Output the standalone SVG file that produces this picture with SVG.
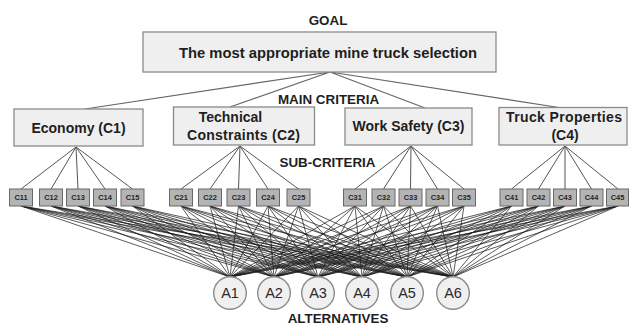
<svg xmlns="http://www.w3.org/2000/svg" width="629" height="325" viewBox="0 0 629 325">
  <style>
    .box { fill: #efefef; stroke: #8a8a8a; stroke-width: 1.3; }
    .sub { fill: #b4b4b4; stroke: #686868; stroke-width: 1; }
    .alt { fill: #f0f0f0; stroke: #8c8c8c; stroke-width: 1.4; }
    .lbl { font-family: "Liberation Sans", Arial, sans-serif; font-weight: bold; fill: #1e1e1e; text-anchor: middle; }
    .big { font-size: 14px; }
    .head { font-size: 13.4px; }
    .st { font-family: "Liberation Sans", Arial, sans-serif; font-weight: bold; font-size: 7.4px; fill: #262626; text-anchor: middle; }
    .at { font-family: "Liberation Sans", Arial, sans-serif; font-size: 14.5px; fill: #2a2a2a; text-anchor: middle; }
    .top { stroke: #666; stroke-width: 1.2; fill: none; }
    .mid { stroke: #555; stroke-width: 1; fill: none; }
    .low { stroke: #1c1c1c; stroke-width: 0.8; fill: none; stroke-opacity: 0.9; }
  </style>

  <!-- level headings -->
  <text class="lbl head" x="328" y="25">GOAL</text>
  <text class="lbl head" x="328.5" y="104">MAIN CRITERIA</text>
  <text class="lbl head" x="327.5" y="167">SUB-CRITERIA</text>
  <text class="lbl head" x="338" y="323">ALTERNATIVES</text>

  <g id="connectors">
    <!-- goal to main criteria -->
    <path class="top" d="M330 72L85 109M330 72L230 107M330 72L425 108M330 72L562 108"/>
    <!-- main criteria to sub-criteria -->
    <path class="mid" d="M76 147L21 189M76 147L51 189M76 147L78 189M76 147L105 189M76 147L132.5 189"/>
    <path class="mid" d="M240 146L181 189M240 146L210 189M240 146L238.5 189M240 146L268 189M240 146L298.5 189"/>
    <path class="mid" d="M411 146L355 189M411 146L383.5 189M411 146L410.5 189M411 146L437.5 189M411 146L464 189"/>
    <path class="mid" d="M565 146L511.5 189M565 146L538.5 189M565 146L565 189M565 146L591.5 189M565 146L618 189"/>
    <!-- sub-criteria to alternatives -->
    <path class="low" d="M21 206L230 277M51 206L230 277M78 206L230 277M105 206L230 277M132.5 206L230 277M181 206L230 277M210 206L230 277M238.5 206L230 277M268 206L230 277M298.5 206L230 277M355 206L230 277M383.5 206L230 277M410.5 206L230 277M437.5 206L230 277M464 206L230 277M511.5 206L230 277M538.5 206L230 277M565 206L230 277M591.5 206L230 277M618 206L230 277"/>
    <path class="low" d="M21 206L274 277M51 206L274 277M78 206L274 277M105 206L274 277M132.5 206L274 277M181 206L274 277M210 206L274 277M238.5 206L274 277M268 206L274 277M298.5 206L274 277M355 206L274 277M383.5 206L274 277M410.5 206L274 277M437.5 206L274 277M464 206L274 277M511.5 206L274 277M538.5 206L274 277M565 206L274 277M591.5 206L274 277M618 206L274 277"/>
    <path class="low" d="M21 206L318 277M51 206L318 277M78 206L318 277M105 206L318 277M132.5 206L318 277M181 206L318 277M210 206L318 277M238.5 206L318 277M268 206L318 277M298.5 206L318 277M355 206L318 277M383.5 206L318 277M410.5 206L318 277M437.5 206L318 277M464 206L318 277M511.5 206L318 277M538.5 206L318 277M565 206L318 277M591.5 206L318 277M618 206L318 277"/>
    <path class="low" d="M21 206L362 277M51 206L362 277M78 206L362 277M105 206L362 277M132.5 206L362 277M181 206L362 277M210 206L362 277M238.5 206L362 277M268 206L362 277M298.5 206L362 277M355 206L362 277M383.5 206L362 277M410.5 206L362 277M437.5 206L362 277M464 206L362 277M511.5 206L362 277M538.5 206L362 277M565 206L362 277M591.5 206L362 277M618 206L362 277"/>
    <path class="low" d="M21 206L407 277M51 206L407 277M78 206L407 277M105 206L407 277M132.5 206L407 277M181 206L407 277M210 206L407 277M238.5 206L407 277M268 206L407 277M298.5 206L407 277M355 206L407 277M383.5 206L407 277M410.5 206L407 277M437.5 206L407 277M464 206L407 277M511.5 206L407 277M538.5 206L407 277M565 206L407 277M591.5 206L407 277M618 206L407 277"/>
    <path class="low" d="M21 206L453 277M51 206L453 277M78 206L453 277M105 206L453 277M132.5 206L453 277M181 206L453 277M210 206L453 277M238.5 206L453 277M268 206L453 277M298.5 206L453 277M355 206L453 277M383.5 206L453 277M410.5 206L453 277M437.5 206L453 277M464 206L453 277M511.5 206L453 277M538.5 206L453 277M565 206L453 277M591.5 206L453 277M618 206L453 277"/>
  </g>

  <!-- goal -->
  <g id="goal">
    <rect class="box" x="143" y="32" width="353" height="40"/>
    <text class="lbl" x="328" y="58" font-size="15.5" textLength="298" lengthAdjust="spacingAndGlyphs">The most appropriate mine truck selection</text>
  </g>

  <!-- main criteria -->
  <g id="c1">
    <rect class="box" x="14" y="109" width="129" height="37"/>
    <text class="lbl big" x="78.5" y="133">Economy (C1)</text>
  </g>
  <g id="c2">
    <rect class="box" x="173.5" y="107" width="141" height="38"/>
    <text class="lbl big" x="230.5" y="122">Technical</text>
    <text class="lbl big" x="243.5" y="140" textLength="113">Constraints (C2)</text>
  </g>
  <g id="c3">
    <rect class="box" x="345" y="108" width="127" height="37"/>
    <text class="lbl big" x="408.5" y="131">Work Safety (C3)</text>
  </g>
  <g id="c4">
    <rect class="box" x="499" y="107.5" width="128" height="37.5"/>
    <text class="lbl big" x="564" y="122" textLength="116">Truck Properties</text>
    <text class="lbl big" x="565" y="140">(C4)</text>
  </g>

  <!-- sub-criteria -->
  <g id="c11"><rect class="sub" x="9.5" y="189" width="23" height="17"/><text class="st" x="21" y="200.3">C11</text></g>
  <g id="c12"><rect class="sub" x="39.5" y="189" width="23" height="17"/><text class="st" x="51" y="200.3">C12</text></g>
  <g id="c13"><rect class="sub" x="66.5" y="189" width="23" height="17"/><text class="st" x="78" y="200.3">C13</text></g>
  <g id="c14"><rect class="sub" x="93.5" y="189" width="23" height="17"/><text class="st" x="105" y="200.3">C14</text></g>
  <g id="c15"><rect class="sub" x="121" y="189" width="23" height="17"/><text class="st" x="132.5" y="200.3">C15</text></g>

  <g id="c21"><rect class="sub" x="169.5" y="189" width="23" height="17"/><text class="st" x="181" y="200.3">C21</text></g>
  <g id="c22"><rect class="sub" x="198.5" y="189" width="23" height="17"/><text class="st" x="210" y="200.3">C22</text></g>
  <g id="c23"><rect class="sub" x="227" y="189" width="23" height="17"/><text class="st" x="238.5" y="200.3">C23</text></g>
  <g id="c24"><rect class="sub" x="256.5" y="189" width="23" height="17"/><text class="st" x="268" y="200.3">C24</text></g>
  <g id="c25"><rect class="sub" x="287" y="189" width="23" height="17"/><text class="st" x="298.5" y="200.3">C25</text></g>

  <g id="c31"><rect class="sub" x="343.5" y="189" width="23" height="17"/><text class="st" x="355" y="200.3">C31</text></g>
  <g id="c32"><rect class="sub" x="372" y="189" width="23" height="17"/><text class="st" x="383.5" y="200.3">C32</text></g>
  <g id="c33"><rect class="sub" x="399" y="189" width="23" height="17"/><text class="st" x="410.5" y="200.3">C33</text></g>
  <g id="c34"><rect class="sub" x="426" y="189" width="23" height="17"/><text class="st" x="437.5" y="200.3">C34</text></g>
  <g id="c35"><rect class="sub" x="452.5" y="189" width="23" height="17"/><text class="st" x="464" y="200.3">C35</text></g>

  <g id="c41"><rect class="sub" x="500" y="189" width="23" height="17"/><text class="st" x="511.5" y="200.3">C41</text></g>
  <g id="c42"><rect class="sub" x="527" y="189" width="23" height="17"/><text class="st" x="538.5" y="200.3">C42</text></g>
  <g id="c43"><rect class="sub" x="553.5" y="189" width="23" height="17"/><text class="st" x="565" y="200.3">C43</text></g>
  <g id="c44"><rect class="sub" x="580" y="189" width="23" height="17"/><text class="st" x="591.5" y="200.3">C44</text></g>
  <g id="c45"><rect class="sub" x="606.5" y="189" width="22" height="17"/><text class="st" x="617.5" y="200.3">C45</text></g>

  <!-- alternatives -->
  <g id="a1"><circle class="alt" cx="230" cy="293" r="16.3"/><text class="at" x="230" y="298">A1</text></g>
  <g id="a2"><circle class="alt" cx="274" cy="293" r="16.3"/><text class="at" x="274" y="298">A2</text></g>
  <g id="a3"><circle class="alt" cx="318" cy="293" r="16.3"/><text class="at" x="318" y="298">A3</text></g>
  <g id="a4"><circle class="alt" cx="362" cy="293" r="16.3"/><text class="at" x="362" y="298">A4</text></g>
  <g id="a5"><circle class="alt" cx="407" cy="293" r="16.3"/><text class="at" x="407" y="298">A5</text></g>
  <g id="a6"><circle class="alt" cx="453" cy="293" r="16.3"/><text class="at" x="453" y="298">A6</text></g>
</svg>
